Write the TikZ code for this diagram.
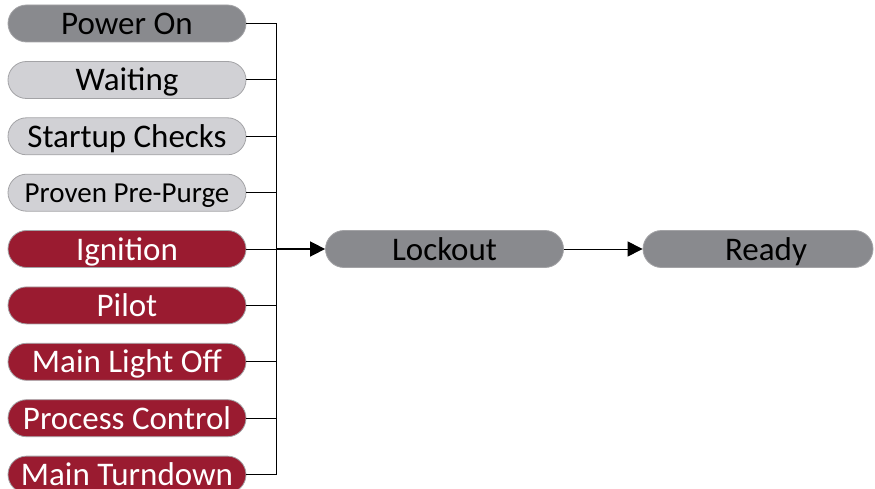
\documentclass[tikz,border=0pt]{standalone}
\usepackage{fontspec}
\setmainfont{Carlito}
\usetikzlibrary{positioning,arrows.meta}

\definecolor{stdark}{HTML}{898A8E}
\definecolor{stlight}{HTML}{D1D1D5}
\definecolor{stred}{HTML}{9A1B30}
\definecolor{stedge}{HTML}{A3A3A6}

\tikzset{
	state/.style={draw=stedge, line width=0.8pt, rounded corners=18.5pt,
		minimum width=238pt, minimum height=37pt, inner sep=0pt,
		text height=22pt, text depth=0pt,
		font=\fontsize{33}{34}\selectfont},
	darkstate/.style={state, fill=stdark, text=black},
	lightstate/.style={state, fill=stlight, text=black},
	redstate/.style={state, fill=stred, text=white},
	link/.style={line width=1pt},
	flow/.style={line width=1.6pt, -{Triangle[length=15pt, width=15pt]}}
}

\begin{document}
\begin{tikzpicture}[x=1pt, y=1pt]
			%\draw[help lines] (0,0) grid (875,-489);
			\useasboundingbox (0,0) rectangle (875,-489);

			\node[darkstate]  (pon)  at (127, -23.5) {Power On};
			\node[lightstate] (wait) at (127, -80)   {Waiting};
			\node[lightstate] (chk)  at (127, -136.3) {Startup Checks};
			\node[lightstate, font=\fontsize{29}{30}\selectfont, text height=20pt] (ppp) at (127, -192.7) {Proven Pre-Purge};
			\node[redstate]   (ign)  at (127, -249)  {Ignition};
			\node[redstate]   (pil)  at (127, -305.4) {Pilot};
			\node[redstate]   (mlo)  at (127, -361.8) {Main Light Off};
			\node[redstate]   (pc)   at (127, -418.2) {Process Control};
			\node[redstate]   (mtd)  at (127, -474.6) {Main Turndown};

			\coordinate (bus) at (276.5, -249);

			\node[darkstate]  (lock)  at (444.5, -249) {Lockout};
			\node[darkstate, minimum width=230pt] (ready) at (758, -249) {\hspace*{16pt}Ready};

			% every state feeds the lockout bus
			\foreach \s in {pon,wait,chk,ppp,ign,pil,mlo,pc,mtd}
				\draw[link] (\s.east) -| (bus);

			\draw[flow] (bus) -- (lock);
			\draw[link, -{Triangle[length=15pt, width=15pt]}] (lock) -- (ready);
		\end{tikzpicture}
\end{document}
